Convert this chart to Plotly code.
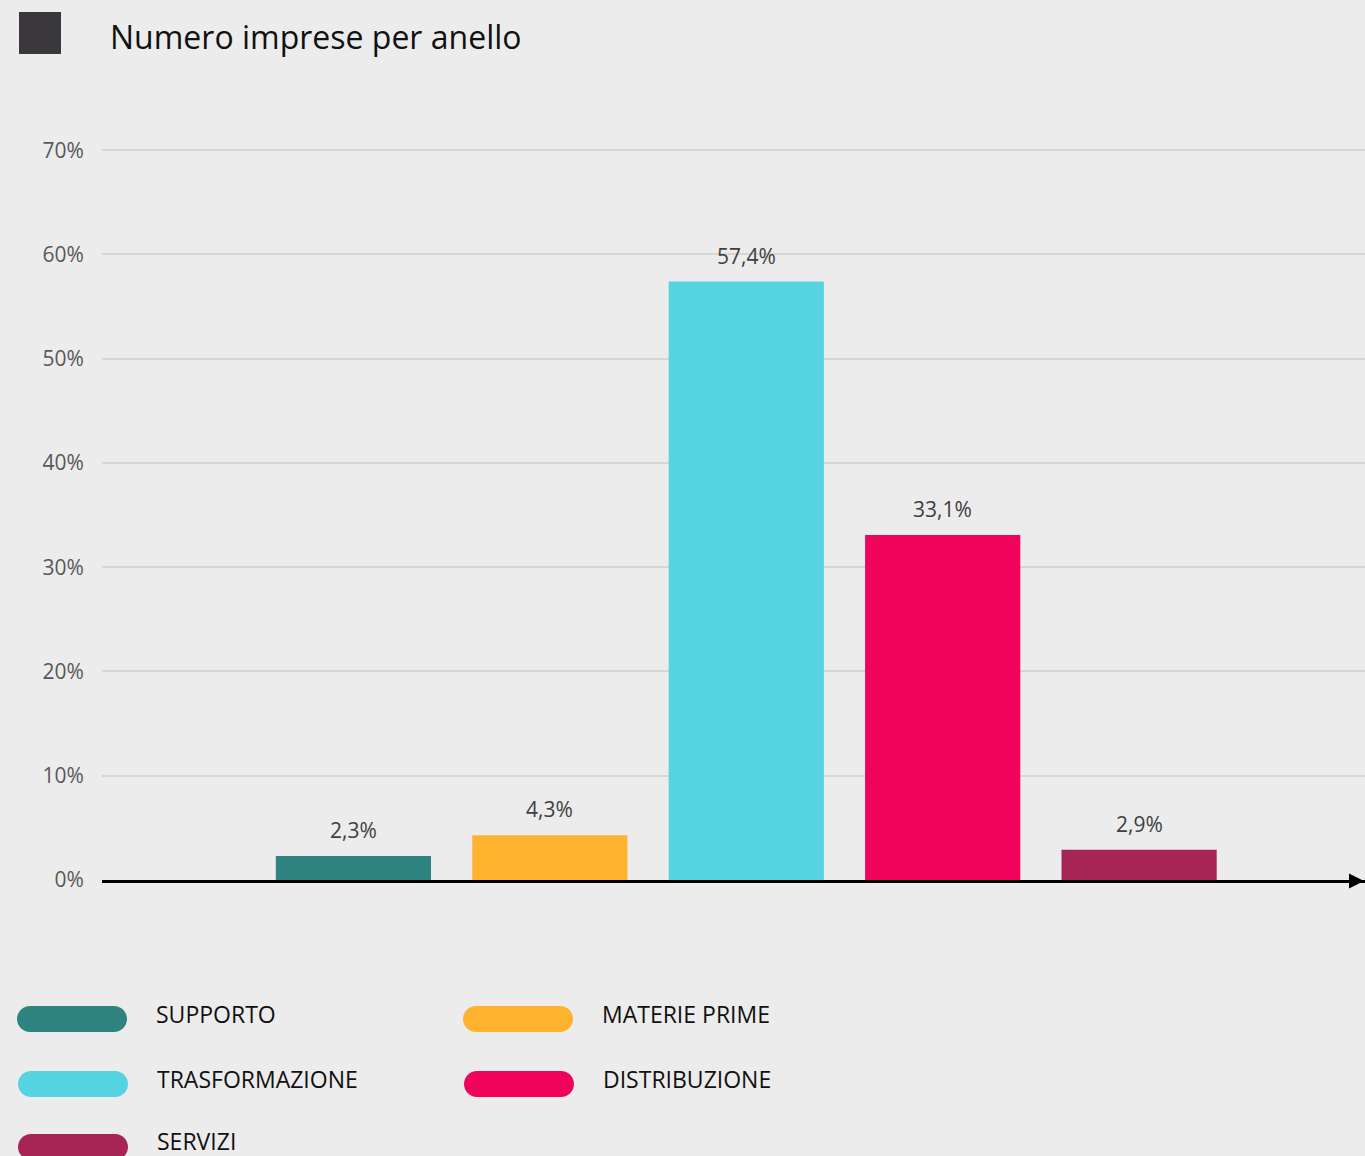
import plotly.graph_objects as go

W, H = 1365, 1156

categorie = ["SUPPORTO", "MATERIE PRIME", "TRASFORMAZIONE", "DISTRIBUZIONE", "SERVIZI"]
quote = [0.023, 0.043, 0.574, 0.331, 0.029]
colori = ["#2f8481", "#ffb22d", "#56d3e0", "#f0035a", "#a62555"]
tick_vals = [0, 0.1, 0.2, 0.3, 0.4, 0.5, 0.6, 0.7]

BG = "#ececec"


def px(x):
    return x / W


def py(y):
    return 1 - y / H


fig = go.Figure()
fig.add_trace(go.Bar(x=categorie, y=quote, marker=dict(color=colori, line=dict(width=0)),
                     hoverinfo="skip", showlegend=False))

# etichette sopra le barre
for c, v in zip(categorie, quote):
    fig.add_annotation(x=c, y=v, xref="x", yref="y", text=f"{v*100:.1f}%".replace(".", ","),
                       showarrow=False, yanchor="bottom", yshift=10,
                       font=dict(family="Open Sans", size=21, color="#404040"))

# titolo con quadratino
fig.add_shape(type="rect", xref="paper", yref="paper", x0=px(19), x1=px(61), y0=py(54), y1=py(12),
              fillcolor="#3a383d", line=dict(width=0))
fig.add_annotation(xref="paper", yref="paper", x=px(108), y=py(37), xanchor="left", yanchor="middle",
                   text="Numero imprese per anello", showarrow=False,
                   font=dict(family="Open Sans", size=32, color="#111111"))

# legenda personalizzata a pillola
def pill_path(w=110, h=26):
    r = h / 2
    a = w / 2 - r
    k = 0.5523 * r
    return (f"M {-a},{-r} L {a},{-r} C {a+k},{-r} {a+r},{-k} {a+r},0 "
            f"C {a+r},{k} {a+k},{r} {a},{r} L {-a},{r} "
            f"C {-a-k},{r} {-a-r},{k} {-a-r},0 C {-a-r},{-k} {-a-k},{-r} {-a},{-r} Z")


leg_pos = [(72, 1019, 154, 1014), (518, 1019, 600, 1014),
           (73, 1084, 155, 1079), (519, 1084, 601, 1079),
           (73, 1147, 155, 1141)]
for (cx, cy, tx, ty), nome, col in zip(leg_pos, categorie, colori):
    fig.add_shape(type="path", xref="paper", yref="paper", xsizemode="pixel", ysizemode="pixel",
                  xanchor=px(cx), yanchor=py(cy), path=pill_path(), fillcolor=col, line=dict(width=0))
    fig.add_annotation(xref="paper", yref="paper", x=px(tx), y=py(ty), xanchor="left", yanchor="middle",
                       text=nome, showarrow=False,
                       font=dict(family="Open Sans", size=23, color="#111111"))

# freccia sull'asse x (tagliata dal bordo come nell'originale)
fig.add_annotation(xref="paper", yref="paper", x=px(1372), y=py(881), ax=-14, ay=0, text="",
                   showarrow=True, arrowhead=2, arrowsize=1, arrowwidth=3, arrowcolor="#000000")

fig.update_layout(
    template="none",
    width=W, height=H,
    autosize=False,
    margin=dict(l=0, r=0, t=0, b=0, pad=0),
    paper_bgcolor=BG, plot_bgcolor=BG,
    bargap=0.21,
    separators=",.",
    showlegend=False,
    xaxis=dict(domain=[px(102), 1], range=[-1.28, 5.15], showticklabels=False, showgrid=False,
               automargin=False,
               showline=True, linecolor="#000000", linewidth=3, ticks="", zeroline=False, fixedrange=True),
    yaxis=dict(domain=[py(880), py(145)], range=[0, 0.705], tickvals=tick_vals, tickformat=".0%",
               automargin=False,
               showgrid=True, gridcolor="#d6d6d6", gridwidth=2, zeroline=False, showline=False,
               ticks="outside", ticklen=13, tickcolor="rgba(0,0,0,0)",
               tickfont=dict(family="Open Sans", size=21, color="#595959"), fixedrange=True),
)

reset_css = (
    "var s=document.createElement('style');"
    "s.textContent='html,body{margin:0;padding:0;overflow:hidden;background:#ececec}';"
    "document.head.appendChild(s);"
)
fig.write_html("out.html", config={"displayModeBar": False}, post_script=reset_css)
